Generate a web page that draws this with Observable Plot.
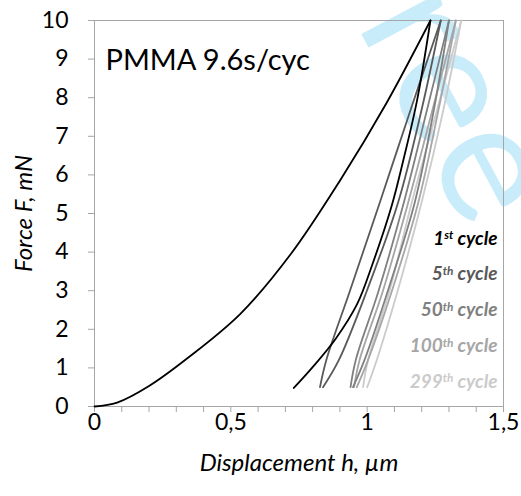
<!DOCTYPE html>
<html>
<head>
<meta charset="utf-8">
<script src="https://cdn.jsdelivr.net/npm/d3@7"></script>
<script src="https://cdn.jsdelivr.net/npm/@observablehq/plot@0.6"></script>
<style>
html, body { margin: 0; padding: 0; background: #fff; }
#chart { width: 521px; height: 496px; overflow: hidden; }
</style>
</head>
<body>
<div id="chart"></div>
<script>
// ---------- data ----------
const cycles = ["1st", "5th", "50th", "100th", "299th"];
const cycleColors = ["#000000", "#595959", "#808080", "#a6a6a6", "#cbcbcb"];

// 1st cycle: loading from zero, then unloading to 0.5 mN
const c1LoadH = [0, 0.083, 0.2, 0.35, 0.535, 0.72, 0.9, 1.07, 1.232];
const c1LoadF = [0, 0.1, 0.53, 1.3, 2.4, 3.95, 5.85, 7.85, 10];
const c1UnloadH = [1.232, 1.183, 1.135, 1.09, 1.02, 0.963, 0.884, 0.8, 0.731];
const c1UnloadF = [10, 7.93, 6.45, 5.2, 3.7, 2.65, 1.75, 1.02, 0.48];

// later cycles: narrow loops between 0.5 and 10 mN (left and right branches)
const loopF = [0.5, 1.2, 3, 5.3, 7.7, 10];
const c5LeftH    = [0.827, 0.85, 0.937, 1.047, 1.16, 1.27];
const c5RightH   = [0.838, 0.896, 0.999, 1.114, 1.2, 1.27];
const c50LeftH   = [0.939, 0.958, 1.042, 1.135, 1.22, 1.30];
const c50RightH  = [0.948, 0.99, 1.076, 1.175, 1.245, 1.30];
const c100LeftH  = [0.952, 0.972, 1.058, 1.151, 1.24, 1.325];
const c100RightH = [0.962, 1.003, 1.091, 1.188, 1.262, 1.325];
const c299LeftH  = [0.985, 1.003, 1.082, 1.164, 1.257, 1.345];
const c299RightH = [1.0, 1.035, 1.112, 1.2, 1.28, 1.345];

// axes
const xMinorTicks = [0, 0.1, 0.2, 0.3, 0.4, 0.5, 0.6, 0.7, 0.8, 0.9, 1, 1.1, 1.2, 1.3, 1.4, 1.5];
const xMajorTicks = [0, 0.5, 1, 1.5];
const xTickLabels = ["0", "0,5", "1", "1,5"];
const yTicks = [0, 1, 2, 3, 4, 5, 6, 7, 8, 9, 10];

const titleText = "PMMA 9.6s/cyc";
const xLabel = "Displacement h, µm";
const yLabel = "Force F, mN";
const legendLabels = ["1st cycle", "5th cycle", "50th cycle", "100th cycle", "299th cycle"];
const watermarkText = "Free";

// ---------- build table ----------
const rows = [];
function addBranch(cycle, key, H, F) {
  H.forEach((h, i) => rows.push({cycle, key, h, F: F[i]}));
}
const loops = [
  ["299th", c299LeftH, c299RightH],
  ["100th", c100LeftH, c100RightH],
  ["50th", c50LeftH, c50RightH],
  ["5th", c5LeftH, c5RightH]
];
for (const [c, L, R] of loops) {
  addBranch(c, c + "-L", L, loopF);
  addBranch(c, c + "-R", R, loopF);
}
addBranch("1st", "1st-load", c1LoadH, c1LoadF);
addBranch("1st", "1st-unload", c1UnloadH, c1UnloadF);

const FONT = "Lato, 'Open Sans', sans-serif";
const AXIS_GRAY = "#a6a6a6";

const legendMarks = legendLabels.map((t, i) =>
  Plot.text([t], {
    frameAnchor: "bottom-right",
    dx: -6,
    dy: -18.8 - (legendLabels.length - 1 - i) * 35.8,
    textAnchor: "end",
    fill: cycleColors[i],
    fontSize: 19,
    fontWeight: "bold",
    fontStyle: "italic"
  })
);

const chart = Plot.plot({
  width: 521,
  height: 496,
  marginLeft: 94,
  marginRight: 18,
  marginTop: 20,
  marginBottom: 90,
  style: {fontFamily: FONT, background: "#fff", overflow: "visible"},
  x: {domain: [0, 1.5]},
  y: {domain: [0, 10]},
  color: {domain: cycles, range: cycleColors},
  marks: [
    Plot.text([watermarkText], {
      frameAnchor: "top-left",
      dx: 326, dy: -132,
      rotate: 62,
      textAnchor: "start",
      fontSize: 170,
      fill: "#c9ecfb"
    }),
    Plot.frame({stroke: AXIS_GRAY}),
    Plot.axisY({ticks: yTicks, tickSize: 6, stroke: AXIS_GRAY, fill: "none", label: null}),
    Plot.axisY({ticks: yTicks, tickSize: 0, tickPadding: 26, fill: "#000", fontSize: 23, label: null}),
    Plot.axisX({ticks: xMinorTicks, tickSize: 6, stroke: AXIS_GRAY, fill: "none", label: null}),
    Plot.axisX({ticks: xMajorTicks, tickSize: 0, tickPadding: 7, fill: "#000", fontSize: 23, label: null,
      tickFormat: (d) => xTickLabels[xMajorTicks.indexOf(d)]}),
    Plot.text([xLabel], {frameAnchor: "bottom", dy: 64, textAnchor: "middle", fontSize: 24, fontStyle: "italic", fill: "#000"}),
    Plot.text([yLabel], {frameAnchor: "left", dx: -70, rotate: -90, textAnchor: "middle", fontSize: 24, fontStyle: "italic", fill: "#000"}),
    Plot.text([titleText], {frameAnchor: "top-left", dx: 11, dy: 28.7, textAnchor: "start", fontSize: 29, fill: "#000"}),
    ...legendMarks,
    Plot.line(rows, {x: "h", y: "F", z: "key", stroke: "cycle", strokeWidth: 1.8, curve: "catmull-rom"})
  ]
});

// superscript ordinal suffixes in the legend
d3.select(chart).selectAll("text").each(function () {
  const el = d3.select(this);
  const t = el.text();
  const m = /^(\d+)(st|nd|rd|th) cycle$/.exec(t);
  if (!m) return;
  el.text(null);
  el.append("tspan").text(m[1]);
  el.append("tspan").attr("dy", "-0.45em").attr("font-size", "0.62em").text(m[2]);
  el.append("tspan").attr("dy", "0.28em").text(" cycle");
});

document.getElementById("chart").appendChild(chart);
</script>
</body>
</html>
